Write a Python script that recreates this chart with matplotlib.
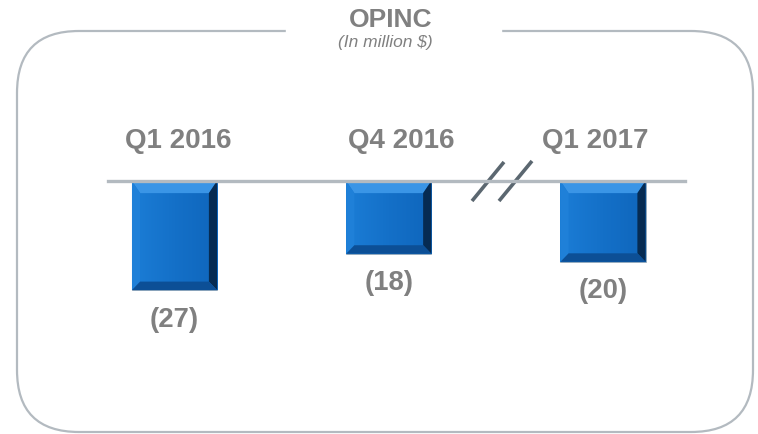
import matplotlib
matplotlib.use("Agg")
import numpy as np
import matplotlib.pyplot as plt
from matplotlib.patches import FancyBboxPatch, Polygon
from matplotlib.colors import LinearSegmentedColormap

# dados do gráfico
periodos = ["Q1 2016", "Q4 2016", "Q1 2017"]
opinc = [-27, -18, -20]
rotulos = ["(27)", "(18)", "(20)"]
titulo = "OPINC"
subtitulo = "(In million $)"

CINZA_TXT = "#808080"
CINZA_BORDA = "#b3bac0"
FONTE = "Liberation Sans"

W, H = 758, 435
fig = plt.figure(figsize=(W / 100, H / 100), dpi=100)

#%% camada de decoração em pixels (moldura, título, quebra)
deco = fig.add_axes([0, 0, 1, 1])
deco.set_xlim(0, W)
deco.set_ylim(H, 0)
deco.axis("off")

moldura = FancyBboxPatch((17, 32), 736, 401,
                         boxstyle="round,pad=0,rounding_size=62",
                         fill=False, edgecolor=CINZA_BORDA, linewidth=1.6)
deco.add_patch(moldura)
# abertura na linha de cima para o título
deco.fill_between([286, 501], 28, 36, color="white", zorder=3)

deco.text(391, 20, titulo, ha="center", va="center", fontsize=19,
          fontweight="bold", color=CINZA_TXT, family=FONTE, zorder=4)
deco.text(385, 43, subtitulo, ha="center", va="center", fontsize=12.5,
          style="italic", color=CINZA_TXT, family=FONTE, zorder=4)

# marcas de quebra "//"
deco.plot([472, 504], [202, 163], color="#5b6770", lw=2.6, solid_capstyle="butt", zorder=4)
deco.plot([499, 532], [202, 162], color="#5b6770", lw=2.6, solid_capstyle="butt", zorder=4)

#%% eixo das barras
px_x = 214.25          # pixels por categoria
px_y = 4.04            # pixels por unidade
y0 = 182               # linha do zero (pixels a partir do topo)
x_esq = 174.5 - 0.5 * px_x
ylim = (-45, 10)
ax = fig.add_axes([x_esq / W, (H - y0 + ylim[0] * px_y) / H,
                   3 * px_x / W, (ylim[1] - ylim[0]) * px_y / H])
ax.set_xlim(-0.5, 2.5)
ax.set_ylim(*ylim)
ax.axis("off")

pos = range(len(opinc))
barras = ax.bar(pos, opinc, width=0.397, color="#1572ca", edgecolor="#9aa6b0",
                linewidth=0.5, zorder=2)

# gradiente suave na face e chanfro nas bordas
cmap_face = LinearSegmentedColormap.from_list("face", ["#1b7dd6", "#1470c8", "#0f66bc"])
grad = np.linspace(0, 1, 64).reshape(1, -1)
dx, dy_top, dy_bot = 0.038, 3.0, 2.1
for b in barras:
    x1, x2 = b.get_x(), b.get_x() + b.get_width()
    yt, yb = 0, b.get_height()
    img = ax.imshow(grad, extent=(x1, x2, yb, yt), cmap=cmap_face, aspect="auto",
                    interpolation="bicubic", zorder=2.5)
    img.set_clip_path(b)
    faces = [
        ([(x1, yt), (x2, yt), (x2 - dx, yt - dy_top), (x1 + dx, yt - dy_top)], "#3a95e6"),
        ([(x1, yt), (x1 + dx, yt - dy_top), (x1 + dx, yb + dy_bot), (x1, yb)], "#1f80d8"),
        ([(x2, yt), (x2, yb), (x2 - dx, yb + dy_bot), (x2 - dx, yt - dy_top)], "#062b52"),
        ([(x1, yb), (x2, yb), (x2 - dx, yb + dy_bot), (x1 + dx, yb + dy_bot)], "#0c4f96"),
    ]
    for pts, cor in faces:
        ax.add_patch(Polygon(pts, closed=True, facecolor=cor, edgecolor="none", zorder=3))

ax.axhline(0, xmin=(108 - x_esq) / (3 * px_x), xmax=(685 - x_esq) / (3 * px_x),
           color=CINZA_BORDA, lw=2.4, zorder=4)

# deslocamento horizontal (px) dos rótulos de período, como no slide original
desloc = [3.5, 13, -8]
for i, (p, v) in enumerate(zip(periodos, opinc)):
    ax.annotate(p, xy=(i, 0), xytext=(desloc[i] * 0.72, 34 * 0.72), textcoords="offset points",
                ha="center", va="baseline", fontsize=20, fontweight="bold",
                color=CINZA_TXT, family=FONTE, annotation_clip=False)
    ax.annotate(rotulos[i], xy=(i, v), xytext=(0, -20.5), textcoords="offset points",
                ha="center", va="center", fontsize=19.8, fontweight="bold",
                color=CINZA_TXT, family=FONTE, annotation_clip=False)

fig.savefig("out.png", dpi=100)
